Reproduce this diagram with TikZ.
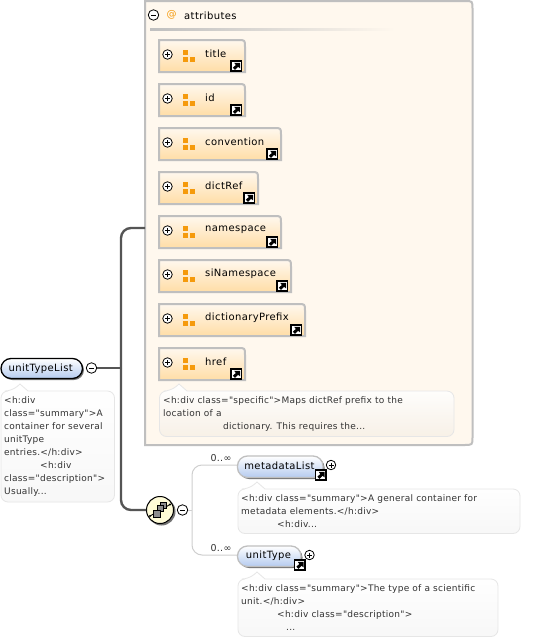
\documentclass[tikz,border=0pt]{standalone}
\usepackage{fontspec}
\setmainfont{DejaVu Sans}
\newfontfamily\labfont[LetterSpace=4]{DejaVu Sans}
\newfontfamily\docfont[LetterSpace=3]{DejaVu Sans}
\usetikzlibrary{calc}
\definecolor{panelfill}{HTML}{FFF8EE}
\definecolor{panelline}{HTML}{BFBFBF}
\definecolor{attrbot}{HTML}{FFDDA6}
\definecolor{orangeic}{HTML}{F59A0C}
\definecolor{bluebot}{HTML}{B5CBEF}
\definecolor{wire}{HTML}{555555}
\definecolor{thinwire}{HTML}{CFCFCF}
\definecolor{docline}{HTML}{E6E6E6}
\definecolor{doctext}{HTML}{333333}
\definecolor{seqfill}{HTML}{FFFBCC}
\tikzset{
  x=1pt,y=-1pt,
  lab/.style={inner sep=0pt,anchor=west,font=\labfont\fontsize{10}{11}\selectfont,text=black},
  doctxt/.style={inner sep=0pt,anchor=north west,align=left,font=\docfont\fontsize{9}{13}\selectfont,text=doctext},
  ctl/.style={circle,draw=black,fill=white,line width=0.8pt,minimum size=10pt,inner sep=0pt},
  card/.style={inner sep=0pt,font=\docfont\fontsize{9.5}{10}\selectfont,text=doctext},
  panelbox/.style={draw=panelline,line width=2pt,top color=panelfill,bottom color=attrbot},
  docbox/.style={draw=docline,line width=0.8pt,rounded corners=7pt,top color=white,bottom color=#1},
  wireline/.style={draw=wire,line width=2.4pt,rounded corners=10pt},
  thinline/.style={draw=thinwire,line width=1pt,rounded corners=10pt},
}
% control circle with + or - ; name, x, y, size
\newcommand{\ctlnode}[4]{%
  \node[ctl,minimum size=#4pt] (#1) at (#2,#3) {};
  \draw[line width=0.8pt] ($(#1.center)+(-2.5,0)$) -- ($(#1.center)+(2.5,0)$);
}
\newcommand{\ctlplus}[4]{%
  \ctlnode{#1}{#2}{#3}{#4}
  \draw[line width=0.8pt] ($(#1.center)+(0,-2.5)$) -- ($(#1.center)+(0,2.5)$);
}
% link icon: left x, top y
\newcommand{\linkicon}[2]{%
  \fill[white,draw=black,line width=1.2pt] (#1,#2) rectangle ++(10.5,10);
  \fill[black] (#1+1.8,#2+6.8) -- (#1+4.8,#2+4) -- (#1+3.2,#2+1.8) -- (#1+9,#2+1.8) -- (#1+9,#2+7.4) -- (#1+7.2,#2+5.8) -- (#1+4,#2+8.8) -- cycle;
}
% attribute box: name, top y, right x, label
\newcommand{\attrbox}[4]{%
  \path[panelbox] (159,#2) -- (#3-7,#2) .. controls (#3,#2) .. (#3,#2+7) -- (#3,#2+32) -- (159,#2+32) -- cycle;
  \ctlplus{#1ctl}{167.5}{#2+14.5}{9.5}
  \fill[orangeic] (183,#2+9.5) rectangle ++(5,5);
  \fill[orangeic] (183,#2+16.5) rectangle ++(5,5);
  \fill[orangeic] (190,#2+16.5) rectangle ++(5,5);
  \node[lab] (#1) at (205,#2+14) {#4};
  \linkicon{#3-14}{#2+21}
}
% documentation bubble: left, top, right, bottom, peak x, bottom colour
\newcommand{\docbubble}[6]{%
  \path[docbox=#6] (#1,#2) -- (#5-8,#2) [sharp corners] -- (#5,#2-7) -- (#5+8,#2) [rounded corners=7pt] -- (#3,#2) -- (#3,#4) -- (#1,#4) -- cycle;
}
% blue element: left, top, right, bottom, border colour
\newcommand{\elemshape}[5]{%
  \fill[black!55,rounded corners=10pt] (#1+1.5,#2+1.5) rectangle (#3+1.5,#4+1.5);
  \path[draw=#5,line width=1.3pt,rounded corners=10pt,top color=white,bottom color=bluebot] (#1,#2) rectangle (#3,#4);
}
\begin{document}
\begin{tikzpicture}
\useasboundingbox (0,0) rectangle (543,640);
\fill[white] (0,0) rectangle (543,640);

% ---- attributes panel
\path[draw=panelline,fill=panelfill,line width=2pt] (145,1) -- (465,1) .. controls (472.5,1) .. (472.5,9) -- (472.5,437) .. controls (472.5,445) .. (464,445) -- (145,445) -- cycle;
\coordinate (attrsIn) at (145,228);
\ctlnode{attrsctl}{153.5}{15}{10.5}
\node[inner sep=0pt,font=\labfont\fontsize{10}{11}\selectfont,text=orangeic] (attrsat) at (171.5,15) {@};
\node[lab] (attrs) at (184,15.5) {attributes};
\shade[left color=black!25,right color=panelfill] (150,28.5) rectangle (395,30);

\attrbox{title}{40}{245}{title}
\attrbox{id}{84}{245}{id}
\attrbox{convention}{128}{281}{convention}
\attrbox{dictRef}{172}{258}{dictRef}
\attrbox{namespace}{216}{281}{namespace}
\attrbox{siNamespace}{260}{291}{siNamespace}
\attrbox{dictionaryPrefix}{304}{305}{dictionaryPrefix}
\attrbox{href}{348}{245}{href}

\docbubble{159.5}{391}{454}{436.5}{179}{black!3!panelfill}
\node[doctxt] (attrdoc) at (163,396.5) {<h:div class="specific">Maps dictRef prefix to the\\location of a\\\hspace*{60pt}dictionary. This requires the...};

% ---- root element
\elemshape{1}{358.5}{82.5}{378.5}{black}
\node[lab,anchor=center] (root) at (40.8,368.5) {unitTypeList};
\ctlnode{rootctl}{91.5}{368}{10.5}
\docbubble{1}{391}{114.5}{502}{20}{black!3}
\node[doctxt] (rootdoc) at (4,396.5) {<h:div\\class="summary">A\\container for several\\unitType\\entries.</h:div>\\\hspace*{36pt}<h:div\\class="description">\\Usually...};

% ---- sequence compositor
\coordinate (junction) at (121,368);
\fill[black!55] (161.5,511.5) circle (14);
\node[circle,draw=black,line width=1pt,inner color=seqfill,outer color=seqfill!70,minimum size=27pt,inner sep=0pt] (seq) at (160,510) {};
\ctlnode{seqctl}{182.5}{510}{10.5}
\draw[line width=0.9pt] (150,516) -- (170,504.5);
\fill[black!45,draw=black,line width=0.4pt] (160.5,502) rectangle ++(6,6);
\fill[black!45,draw=black,line width=0.4pt] (157.5,505.5) rectangle ++(6,6);
\fill[black!45,draw=black,line width=0.4pt] (153.5,510.5) rectangle ++(6.5,7);
\fill[black] (150,516) circle (1.2) (170,504.5) circle (1.2);

\draw[line width=2.4pt,draw=wire] (rootctl.east) -- (junction);
\draw[wireline] (junction) -- (121,228) -- (attrsIn);
\draw[wireline] (junction) -- (121,510) -- (seq.west);

% ---- children
\coordinate (branch) at (192,510);
\draw[draw=thinwire,line width=1pt] (seqctl.east) -- (branch);
\coordinate (m) at (237,465);
\coordinate (u) at (237,555);
\draw[thinline] (m) -- (192,465) -- (192,555) -- (u);
\node[card] (mcard) at (221,458.5) {0..∞};
\node[card] (ucard) at (221,548.5) {0..∞};

\elemshape{237.5}{456}{323}{477.5}{panelline}
\node[lab,anchor=center] (metadataList) at (279.5,466) {metadataList};
\linkicon{315.5}{470}
\ctlplus{mctl}{331}{465}{9.5}
\docbubble{238}{489}{520}{533.5}{257}{black!3}
\node[doctxt] (mdoc) at (241,494) {<h:div class="summary">A general container for\\metadata elements.</h:div>\\\hspace*{36pt}<h:div...};

\elemshape{237.5}{546}{301}{566.5}{panelline}
\node[lab,anchor=center] (unitType) at (268.5,555.5) {unitType};
\linkicon{294.5}{560}
\ctlplus{uctl}{309.5}{555}{9.5}
\docbubble{238}{579}{498}{636.5}{257}{black!3}
\node[doctxt] (udoc) at (241,584) {<h:div class="summary">The type of a scientific\\unit.</h:div>\\\hspace*{36pt}<h:div class="description">\\\hspace*{45pt}...};
\end{tikzpicture}
\end{document}
